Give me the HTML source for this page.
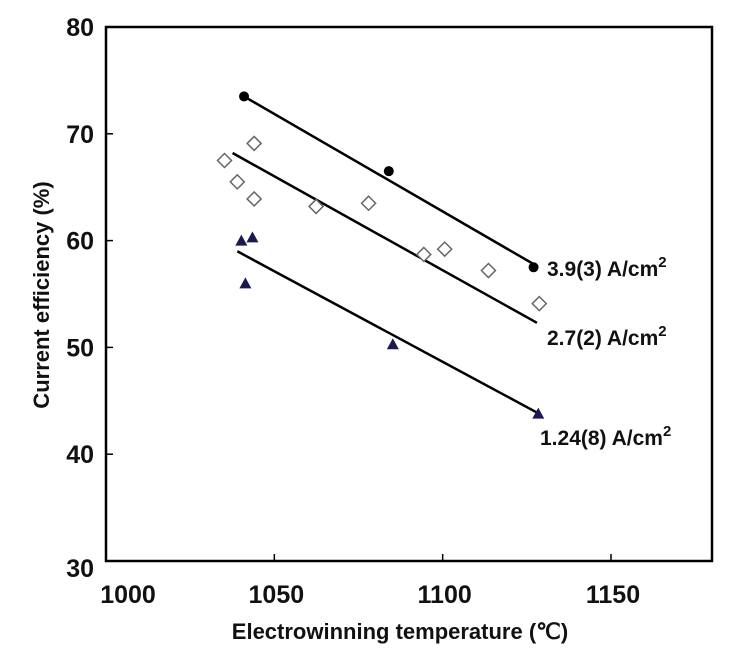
<!DOCTYPE html>
<html><head><meta charset="utf-8"><style>
html,body{margin:0;padding:0;background:#fff;}
svg text{font-family:"Liberation Sans",sans-serif;fill:#111;}
</style></head><body>
<svg id="chart" width="736" height="659" xmlns="http://www.w3.org/2000/svg"></svg>
<script>
const xTicks=[1000,1050,1100,1150];
const yTicks=[30,40,50,60,70,80];
const s1X=[1041,1084,1127];
const s1Y=[73.5,66.5,57.5];
const s1Fit=[[1041,73.5],[1127,57.8]];
const s2X=[1035.2,1039,1044,1044,1062.4,1078,1094.4,1100.6,1113.6,1128.7];
const s2Y=[67.5,65.5,69.1,63.9,63.2,63.5,58.7,59.2,57.2,54.1];
const s2Fit=[[1037.6,68.2],[1128,52.3]];
const s3X=[1040.2,1043.5,1041.4,1085.2,1128.4];
const s3Y=[60.0,60.3,56.0,50.3,43.8];
const s3Fit=[[1039,59.0],[1128,43.9]];
const labels=["3.9(3) A/cm","2.7(2) A/cm","1.24(8) A/cm"];

const L=106,R=712,T=27,B=561,xmin=1000,xmax=1180,ymin=30,ymax=80;
const X=v=>L+(v-xmin)/(xmax-xmin)*(R-L);
const Y=v=>B-(v-ymin)/(ymax-ymin)*(B-T);
const svg=document.getElementById('chart');
const NS="http://www.w3.org/2000/svg";
function mk(tag,attrs,parent){const e=document.createElementNS(NS,tag);for(const k in attrs)e.setAttribute(k,attrs[k]);(parent||svg).appendChild(e);return e;}

let frame=mk('rect',{x:L,y:T,width:R-L,height:B-T,fill:'none',stroke:'#000','stroke-width':2.5});



xTicks.forEach(t=>{
  let l=mk('line',{x1:X(t),x2:X(t),y1:B,y2:B-7,stroke:'#000','stroke-width':1.5});
  
  
  let tx=mk('text',{x:X(t)+(t===1000?22:2),y:603,'font-size':25,'font-weight':'bold','text-anchor':'middle'});
  tx.textContent=t;
  
  
});
yTicks.forEach(t=>{
  let l=mk('line',{x1:L,x2:L+7,y1:Y(t),y2:Y(t),stroke:'#000','stroke-width':1.5});
  
  
  let tx=mk('text',{x:94,y:(t===30?Y(t)+16:Y(t)+9),'font-size':25,'font-weight':'bold','text-anchor':'end'});
  tx.textContent=t;
  
  
});
let xt=mk('text',{x:400,y:639,'font-size':22,'font-weight':'bold','text-anchor':'middle'});
xt.textContent='Electrowinning temperature (℃)';


let yt=mk('text',{x:0,y:0,'font-size':22,'font-weight':'bold','text-anchor':'middle',transform:'translate(49,295) rotate(-90)'});
yt.textContent='Current efficiency (%)';



function fit(f,name){let l=mk('line',{x1:X(f[0][0]),y1:Y(f[0][1]),x2:X(f[1][0]),y2:Y(f[1][1]),stroke:'#000','stroke-width':2.5});
  
  }
fit(s1Fit,'fit-line-3.9');fit(s2Fit,'fit-line-2.7');fit(s3Fit,'fit-line-1.24');

s1X.forEach((x,i)=>{let c=mk('circle',{cx:X(x),cy:Y(s1Y[i]),r:5,fill:'#000'});
  
  });
s2X.forEach((x,i)=>{const cx=X(x),cy=Y(s2Y[i]),d=7;
  let p=mk('polygon',{points:`${cx},${cy-d} ${cx+d},${cy} ${cx},${cy+d} ${cx-d},${cy}`,fill:'#fff',stroke:'#666','stroke-width':1.5});
  
  });
s3X.forEach((x,i)=>{const cx=X(x),cy=Y(s3Y[i]);
  let p=mk('polygon',{points:`${cx},${cy-6} ${cx+6},${cy+5} ${cx-6},${cy+5}`,fill:'#1a1a50'});
  
  });

const lp=[[547,276],[547,345],[540,445]];
labels.forEach((s,i)=>{let t=mk('text',{x:lp[i][0],y:lp[i][1],'font-size':21,'font-weight':'bold'});
  t.textContent=s;
  let sup=mk('tspan',{dy:-9,'font-size':15},t);sup.textContent='2';
  
  });
</script>
</body></html>
